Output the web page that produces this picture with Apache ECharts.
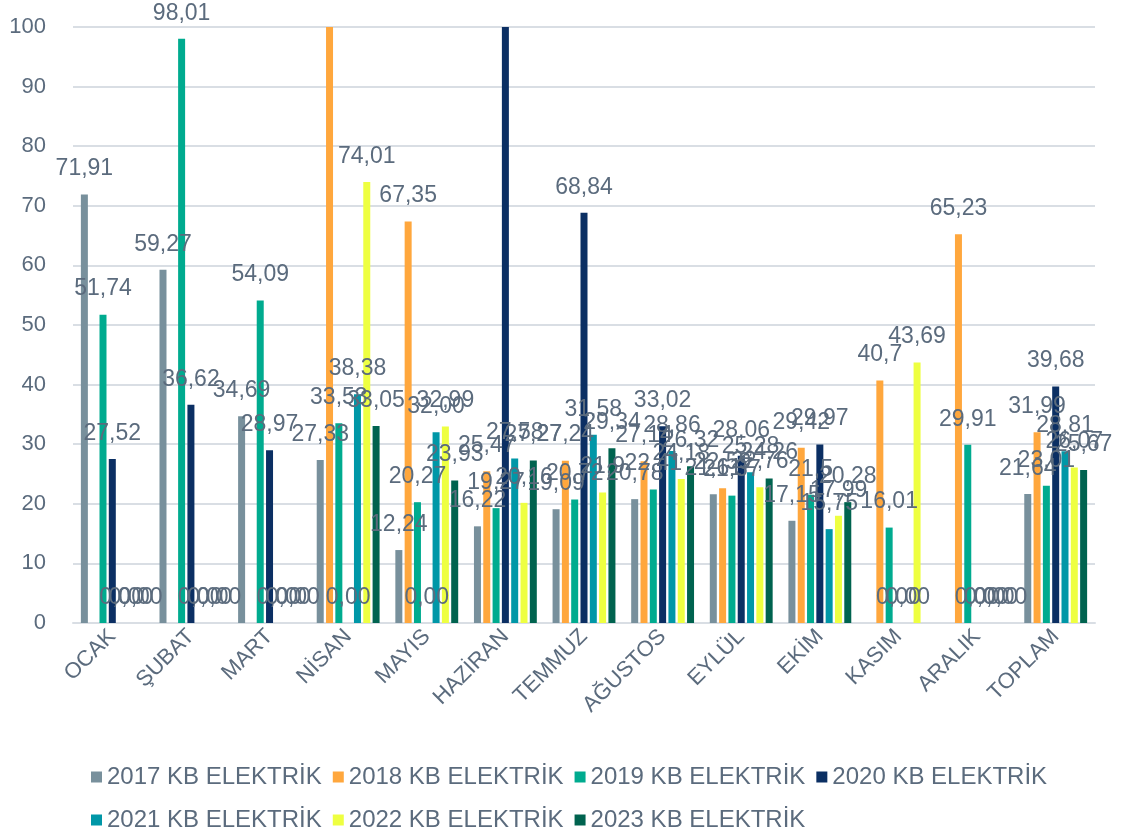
<!DOCTYPE html>
<html>
<head>
<meta charset="utf-8">
<script src="https://cdn.jsdelivr.net/npm/echarts@6/dist/echarts.min.js"></script>
<style>
html,body{margin:0;padding:0;background:#fff;}
#chart{width:1125px;height:832px;}
</style>
</head>
<body>
<div id="chart"></div>
<script>
const categories = ['OCAK','ŞUBAT','MART','NİSAN','MAYIS','HAZİRAN','TEMMUZ','AĞUSTOS','EYLÜL','EKİM','KASIM','ARALIK','TOPLAM'];
const seriesNames = ['2017 KB ELEKTRİK','2018 KB ELEKTRİK','2019 KB ELEKTRİK','2020 KB ELEKTRİK','2021 KB ELEKTRİK','2022 KB ELEKTRİK','2023 KB ELEKTRİK'];
const seriesColors = ['#78909C','#FFA73D','#00AB8F','#0B2F63','#0097A7','#EEFF41','#00634F'];
const s2017 = [71.91, 59.27, 34.69, 27.33, 12.24, 16.22, 19.09, 20.78, 21.61, 17.15, null, null, 21.64];
const s2018 = [null, null, null, 120, 67.35, 25.47, 27.24, 27.14, 22.59, 29.42, 40.7, 65.23, 31.99];
const s2019 = [51.74, 98.01, 54.09, 33.53, 20.27, 19.27, 20.72, 22.41, 21.37, 21.5, 16.01, 29.91, 23.01];
const s2020 = [27.52, 36.62, 28.97, 0, 0, 115, 68.84, 33.02, 28.06, 29.97, 0, 0, 39.68];
const s2021 = [0, 0, 0, 38.38, 32.00, 27.58, 31.58, 28.86, 25.28, 15.75, 0, 0, 28.81];
const s2022 = [0, 0, 0, 74.01, 32.99, 20.16, 21.90, 24.18, 22.76, 17.99, 43.69, 0, 26.07];
const s2023 = [0, 0, 0, 33.05, 23.93, 27.27, 29.34, 26.32, 24.26, 20.28, null, 0, 25.67];
const yTicks = [0,10,20,30,40,50,60,70,80,90,100];

const allData = [s2017, s2018, s2019, s2020, s2021, s2022, s2023];
const FONT = '"Liberation Sans", Arial, sans-serif';
const TXT = '#5B6B7D';
const AX_MAX = yTicks[yTicks.length-1];

function fmt(v){
  if (v === null || v === undefined) return '';
  if (Number.isInteger(v)) return v.toFixed(2).replace('.', ',');
  return String(v).replace('.', ',');
}

const series = allData.map((arr, i) => ({
  name: seriesNames[i],
  type: 'bar',
  barWidth: 7,
  barGap: '33%',
  clip: true,
  itemStyle: {color: seriesColors[i]},
  label: {
    show: true, position: 'top', distance: 14,
    fontFamily: FONT, fontSize: 23, color: TXT,
    formatter: p => fmt(p.value)
  },
  data: arr.map(v => (v !== null && v > AX_MAX) ? {value: v, label: {show: false}} : v)
}));

const legendBase = {
  icon: 'rect', itemWidth: 11, itemHeight: 11, itemGap: 11,
  left: 86, padding: 5,
  textStyle: {fontFamily: FONT, fontSize: 24, color: TXT}
};

const chart = echarts.init(document.getElementById('chart'));
chart.setOption({
  animation: false,
  backgroundColor: '#fff',
  textStyle: {fontFamily: FONT},
  grid: {left: 73, right: 30, top: 27, bottom: 209, containLabel: false},
  legend: [
    Object.assign({}, legendBase, {top: 760, data: seriesNames.slice(0,4)}),
    Object.assign({}, legendBase, {top: 803, data: seriesNames.slice(4)})
  ],
  xAxis: {
    type: 'category', data: categories,
    axisLine: {lineStyle: {color: '#D9DEE4', width: 2}},
    axisTick: {show: false},
    axisLabel: {interval: 0, rotate: 45, fontFamily: FONT, fontSize: 22, color: TXT, margin: 10}
  },
  yAxis: {
    type: 'value', min: 0, max: AX_MAX, interval: 10,
    axisLine: {show: false}, axisTick: {show: false},
    splitLine: {lineStyle: {color: '#D9DEE4', width: 2}},
    axisLabel: {fontFamily: FONT, fontSize: 22, color: TXT, margin: 27}
  },
  series: series
});
</script>
</body>
</html>
